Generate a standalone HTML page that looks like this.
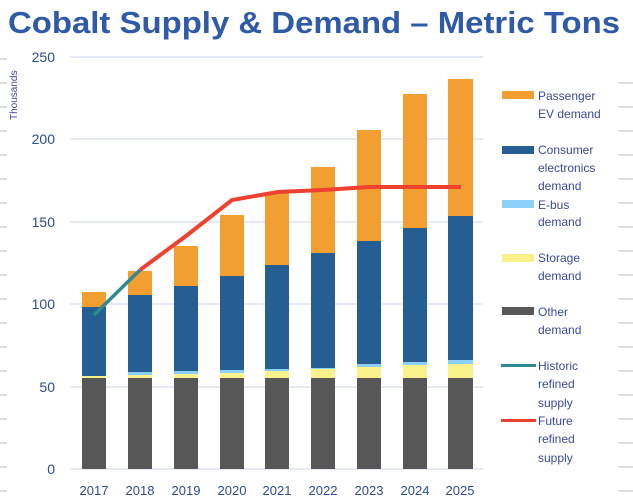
<!DOCTYPE html><html><head><style>body{margin:0;background:#fff}svg{display:block}</style></head><body>
<svg width="633" height="500" xmlns="http://www.w3.org/2000/svg" font-family="Liberation Sans, sans-serif">
<text x="8" y="33" font-size="31" font-weight="bold" fill="#2e5aa8" textLength="612" lengthAdjust="spacingAndGlyphs">Cobalt Supply &amp; Demand – Metric Tons</text>
<g stroke="#e6eaf7" stroke-width="2">
<line x1="70" x2="483" y1="57" y2="57"/><line x1="70" x2="483" y1="139" y2="139"/><line x1="70" x2="483" y1="222" y2="222"/><line x1="70" x2="483" y1="304" y2="304"/><line x1="70" x2="483" y1="387" y2="387"/><line x1="70" x2="483" y1="469" y2="469"/></g>
<g font-size="14" fill="#2e4a9a" text-anchor="end">
<text x="55" y="62">250</text><text x="55" y="144">200</text><text x="55" y="227">150</text><text x="55" y="309">100</text><text x="55" y="392">50</text><text x="55" y="474">0</text></g>
<text transform="translate(17,120) rotate(-90)" font-size="10" fill="#3a4a9a">Thousands</text>
<g stroke="#bbb" stroke-width="1">
<path d="M0 59h7M0 83h7M0 107h7M0 131h7M0 155h7M0 179h7M0 203h7M0 227h7M0 251h7M0 275h7M0 299h7M0 323h7M0 347h7M0 371h7M0 395h7M0 419h7M0 443h7M0 467h7M0 491h7"/>
<path d="M618 83h15M618 107h15M618 131h15M618 155h15M618 179h15M618 203h15M618 227h15M618 251h15M618 275h15M618 299h15M618 323h15M618 347h15M618 371h15M618 395h15M618 419h15M618 443h15M618 467h15M618 491h15"/></g>
<g>
<rect x="82" y="378" width="24" height="91" fill="#575757"/><rect x="82" y="376" width="24" height="2" fill="#f9f28a"/><rect x="82" y="307" width="24" height="69" fill="#255e93"/><rect x="82" y="292" width="24" height="15" fill="#f39e30"/>
<rect x="128" y="378" width="24" height="91" fill="#575757"/><rect x="128" y="375" width="24" height="3" fill="#f9f28a"/><rect x="128" y="372" width="24" height="3" fill="#8cd0f7"/><rect x="128" y="295" width="24" height="77" fill="#255e93"/><rect x="128" y="271" width="24" height="24" fill="#f39e30"/>
<rect x="174" y="378" width="24" height="91" fill="#575757"/><rect x="174" y="374" width="24" height="4" fill="#f9f28a"/><rect x="174" y="371" width="24" height="3" fill="#8cd0f7"/><rect x="174" y="286" width="24" height="85" fill="#255e93"/><rect x="174" y="246" width="24" height="40" fill="#f39e30"/>
<rect x="220" y="378" width="24" height="91" fill="#575757"/><rect x="220" y="373" width="24" height="5" fill="#f9f28a"/><rect x="220" y="370" width="24" height="3" fill="#8cd0f7"/><rect x="220" y="276" width="24" height="94" fill="#255e93"/><rect x="220" y="215" width="24" height="61" fill="#f39e30"/>
<rect x="265" y="378" width="24" height="91" fill="#575757"/><rect x="265" y="371" width="24" height="7" fill="#f9f28a"/><rect x="265" y="369" width="24" height="2" fill="#8cd0f7"/><rect x="265" y="265" width="24" height="104" fill="#255e93"/><rect x="265" y="193" width="24" height="72" fill="#f39e30"/>
<rect x="311" y="378" width="24" height="91" fill="#575757"/><rect x="311" y="369" width="24" height="9" fill="#f9f28a"/><rect x="311" y="368" width="24" height="1" fill="#8cd0f7"/><rect x="311" y="253" width="24" height="115" fill="#255e93"/><rect x="311" y="167" width="24" height="86" fill="#f39e30"/>
<rect x="357" y="378" width="24" height="91" fill="#575757"/><rect x="357" y="367" width="24" height="11" fill="#f9f28a"/><rect x="357" y="364" width="24" height="3" fill="#8cd0f7"/><rect x="357" y="241" width="24" height="123" fill="#255e93"/><rect x="357" y="130" width="24" height="111" fill="#f39e30"/>
<rect x="403" y="378" width="24" height="91" fill="#575757"/><rect x="403" y="365" width="24" height="13" fill="#f9f28a"/><rect x="403" y="362" width="24" height="3" fill="#8cd0f7"/><rect x="403" y="228" width="24" height="134" fill="#255e93"/><rect x="403" y="94" width="24" height="134" fill="#f39e30"/>
<rect x="448" y="378" width="25" height="91" fill="#575757"/><rect x="448" y="364" width="25" height="14" fill="#f9f28a"/><rect x="448" y="360" width="25" height="4" fill="#8cd0f7"/><rect x="448" y="216" width="25" height="144" fill="#255e93"/><rect x="448" y="79" width="25" height="137" fill="#f39e30"/>
</g>
<polyline points="94,315 140,270" fill="none" stroke="#2f8a92" stroke-width="3.5"/>
<polyline points="140,270 186,236 232,200 278,192 323,190 369,187 415,187 461,187" fill="none" stroke="#ef4130" stroke-width="4"/>
<g font-size="13" fill="#2e4a9a" text-anchor="middle">
<text x="94" y="495">2017</text><text x="140" y="495">2018</text><text x="186" y="495">2019</text><text x="232" y="495">2020</text><text x="277" y="495">2021</text><text x="323" y="495">2022</text><text x="369" y="495">2023</text><text x="415" y="495">2024</text><text x="460" y="495">2025</text></g>
<rect x="502" y="91" width="32" height="8" fill="#f39e30"/>
<rect x="502" y="146" width="32" height="8" fill="#255e93"/>
<rect x="502" y="200" width="32" height="8" fill="#8cd0f7"/>
<rect x="502" y="254" width="32" height="8" fill="#f9f28a"/>
<rect x="502" y="307" width="32" height="8" fill="#575757"/>
<rect x="501" y="364" width="35" height="3" fill="#2f8a92"/>
<rect x="501" y="419" width="35" height="3" fill="#ef4130"/>
<g font-size="12" fill="#3a4a9a">
<text x="538" y="100">Passenger</text><text x="538" y="118">EV demand</text>
<text x="538" y="154">Consumer</text><text x="538" y="172">electronics</text><text x="538" y="190">demand</text>
<text x="538" y="209">E-bus</text><text x="538" y="226">demand</text>
<text x="538" y="262">Storage</text><text x="538" y="280">demand</text>
<text x="538" y="316">Other</text><text x="538" y="334">demand</text>
<text x="538" y="370">Historic</text><text x="538" y="388">refined</text><text x="538" y="407">supply</text>
<text x="538" y="425">Future</text><text x="538" y="443">refined</text><text x="538" y="462">supply</text></g>
</svg></body></html>
